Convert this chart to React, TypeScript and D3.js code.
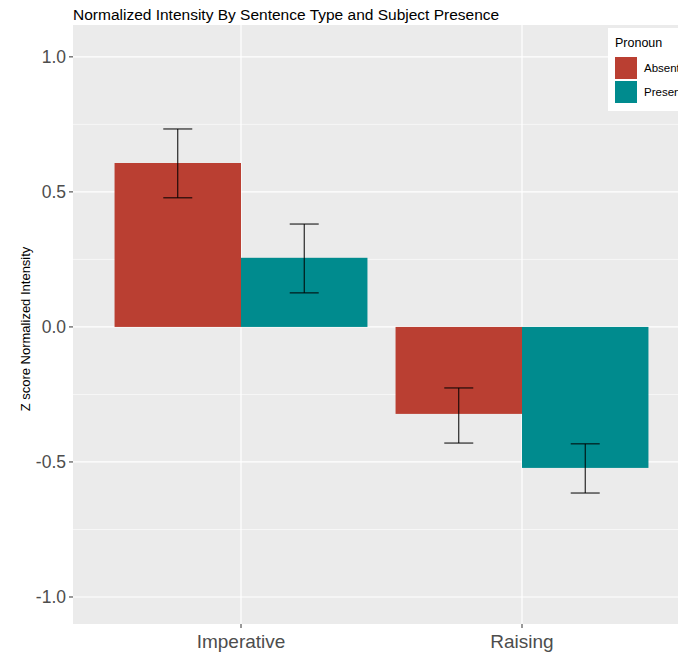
import React from "react";
import * as d3 from "d3";

const sentenceTypes = ["Imperative", "Raising"];
const pronouns = ["Absent", "Present"];
const meanAbsent = [0.607, -0.322];
const meanPresent = [0.256, -0.522];
const lowAbsent = [0.478, -0.43];
const highAbsent = [0.733, -0.226];
const lowPresent = [0.126, -0.615];
const highPresent = [0.381, -0.433];
const yTicks = [-1.0, -0.5, 0.0, 0.5, 1.0];
const yMinor = [-0.75, -0.25, 0.25, 0.75];
const colors = ["#BA3F32", "#008B8E"];

const W = 678;
const H = 653;
const margin = { top: 25, right: 0, bottom: 29, left: 73 };

const App = () => {
  const pw = 617; // panel extends past the window edge
  const ph = H - margin.top - margin.bottom;
  const x = d3.scalePoint(sentenceTypes, [margin.left + 168, margin.left + 168 + 281]);
  const y = d3.scaleLinear([-1.1, 1.118], [margin.top + ph, margin.top]);
  const step = 281;
  const barW = (step * 0.9) / 2;

  const rows = sentenceTypes.flatMap((s, i) => [
    { s, g: 0, m: meanAbsent[i], lo: lowAbsent[i], hi: highAbsent[i] },
    { s, g: 1, m: meanPresent[i], lo: lowPresent[i], hi: highPresent[i] },
  ]);

  return (
    <svg width={W} height={H} style={{ position: "absolute", left: 0, top: 0 }} fontFamily="Arial, 'Liberation Sans', sans-serif">
      <rect width={W} height={H} fill="white" />
      <rect x={margin.left} y={margin.top} width={pw} height={ph} fill="#EBEBEB" />
      {yMinor.map((t) => (
        <line key={t} x1={margin.left} x2={margin.left + pw} y1={y(t)} y2={y(t)} stroke="white" strokeWidth={0.6} />
      ))}
      {yTicks.map((t) => (
        <line key={t} x1={margin.left} x2={margin.left + pw} y1={y(t)} y2={y(t)} stroke="white" strokeWidth={1.2} />
      ))}
      {sentenceTypes.map((s) => (
        <line key={s} x1={x(s)} x2={x(s)} y1={margin.top} y2={margin.top + ph} stroke="white" strokeWidth={1.2} />
      ))}
      {rows.map((r, i) => {
        const x0 = (x(r.s) as number) - barW + r.g * barW;
        return (
          <rect key={i} x={x0} width={barW} y={Math.min(y(r.m), y(0))} height={Math.abs(y(r.m) - y(0))} fill={colors[r.g]} />
        );
      })}
      {rows.map((r, i) => {
        const cx = (x(r.s) as number) - barW / 2 + r.g * barW;
        return (
          <g key={i} stroke="black" strokeWidth={1}>
            <line x1={cx} x2={cx} y1={y(r.lo)} y2={y(r.hi)} />
            <line x1={cx - 14.5} x2={cx + 14.5} y1={y(r.lo)} y2={y(r.lo)} />
            <line x1={cx - 14.5} x2={cx + 14.5} y1={y(r.hi)} y2={y(r.hi)} />
          </g>
        );
      })}
      {yTicks.map((t) => (
        <g key={t}>
          <line x1={margin.left - 4} x2={margin.left} y1={y(t)} y2={y(t)} stroke="#333" />
          <text x={margin.left - 7} y={y(t)} dy="0.35em" textAnchor="end" fontSize={17.5} fill="#4D4D4D">
            {d3.format(".1f")(t).replace("−", "-")}
          </text>
        </g>
      ))}
      {sentenceTypes.map((s) => (
        <g key={s}>
          <line x1={x(s)} x2={x(s)} y1={margin.top + ph} y2={margin.top + ph + 4} stroke="#333" />
          <text x={x(s)} y={648} textAnchor="middle" fontSize={19} fill="#4D4D4D">{s}</text>
        </g>
      ))}
      <text transform={`translate(30,329) rotate(-90)`} textAnchor="middle" fontSize={13} fill="black">
        Z score Normalized Intensity
      </text>
      <text x={margin.left} y={20} fontSize={15.5} fill="black">
        Normalized Intensity By Sentence Type and Subject Presence
      </text>
      <g transform="translate(608,28)">
        <rect width={80} height={83} fill="white" />
        <text x={7} y={19} fontSize={12.5} fill="black">Pronoun</text>
        {pronouns.map((p, i) => (
          <g key={p} transform={`translate(7,${29 + i * 24})`}>
            <rect width={22} height={22} fill={colors[i]} />
            <text x={29} y={11} dy="0.35em" fontSize={11.5} fill="black">{p}</text>
          </g>
        ))}
      </g>
    </svg>
  );
};

export default App;
